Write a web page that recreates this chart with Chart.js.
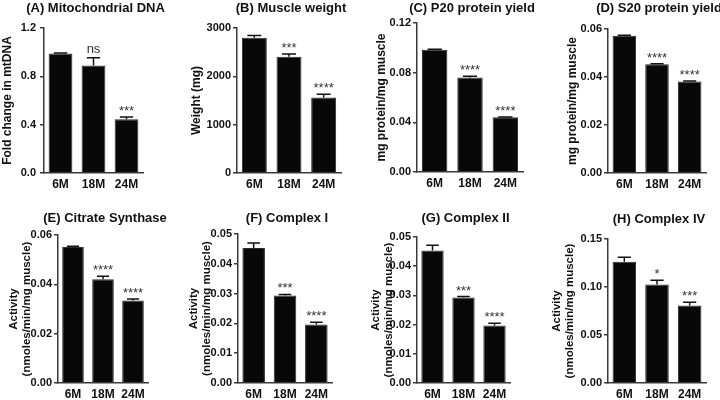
<!DOCTYPE html>
<html>
<head>
<meta charset="utf-8">
<title>Mitochondrial markers by age</title>
<script src="https://cdn.jsdelivr.net/npm/chart.js@4.4.1/dist/chart.umd.min.js"></script>
<style>
  html, body { margin: 0; padding: 0; background: #fff; }
  #page { position: relative; width: 720px; height: 400px; overflow: hidden; }
  #page canvas { position: absolute; }
</style>
</head>
<body>
<div id="page"></div>
<script>
// ---- data ----
const ages = ['6M', '18M', '24M'];

const mtDNA = [0.99, 0.89, 0.445];
const mtDNAErr = [0.004, 0.063, 0.018];
const mtDNASig = ['', 'ns', '***'];
const mtDNATicks = [0, 0.4, 0.8, 1.2];

const weight = [2800, 2405, 1562];
const weightErr = [45, 56, 69];
const weightSig = ['', '***', '****'];
const weightTicks = [0, 1000, 2000, 3000];

const p20 = [0.0985, 0.0761, 0.0441];
const p20Err = [0.0003, 0.0010, 0.0002];
const p20Sig = ['', '****', '****'];
const p20Ticks = [0, 0.04, 0.08, 0.12];

const s20 = [0.0572, 0.0453, 0.0381];
const s20Err = [0.0002, 0.0002, 0.0002];
const s20Sig = ['', '****', '****'];
const s20Ticks = [0, 0.02, 0.04, 0.06];

const citrate = [0.0551, 0.0421, 0.0334];
const citrateErr = [0.0003, 0.0012, 0.0007];
const citrateSig = ['', '****', '****'];
const citrateTicks = [0, 0.02, 0.04, 0.06];

const complex1 = [0.0453, 0.0294, 0.0196];
const complex1Err = [0.0017, 0.0003, 0.0008];
const complex1Sig = ['', '***', '****'];
const complex1Ticks = [0, 0.01, 0.02, 0.03, 0.04, 0.05];

const complex2 = [0.0454, 0.0293, 0.0197];
const complex2Err = [0.0018, 0.0003, 0.0008];
const complex2Sig = ['', '***', '****'];
const complex2Ticks = [0, 0.01, 0.02, 0.03, 0.04, 0.05];

const complex4 = [0.1264, 0.1025, 0.0806];
const complex4Err = [0.0045, 0.0045, 0.0034];
const complex4Sig = ['', '*', '***'];
const complex4Ticks = [0, 0.05, 0.10, 0.15];

const activityTitle = ['Activity', '(nmoles/min/mg muscle)'];

const panels = [
  { title: '(A) Mitochondrial DNA', yTitle: 'Fold change in mtDNA', values: mtDNA, errors: mtDNAErr, sigs: mtDNASig, ticks: mtDNATicks, decimals: 1 },
  { title: '(B) Muscle weight', yTitle: 'Weight (mg)', values: weight, errors: weightErr, sigs: weightSig, ticks: weightTicks, decimals: 0 },
  { title: '(C) P20 protein yield', yTitle: 'mg protein/mg muscle', values: p20, errors: p20Err, sigs: p20Sig, ticks: p20Ticks, decimals: 2 },
  { title: '(D) S20 protein yield', yTitle: 'mg protein/mg muscle', values: s20, errors: s20Err, sigs: s20Sig, ticks: s20Ticks, decimals: 2 },
  { title: '(E) Citrate Synthase', yTitle: activityTitle, values: citrate, errors: citrateErr, sigs: citrateSig, ticks: citrateTicks, decimals: 2 },
  { title: '(F) Complex I', yTitle: activityTitle, values: complex1, errors: complex1Err, sigs: complex1Sig, ticks: complex1Ticks, decimals: 2 },
  { title: '(G) Complex II', yTitle: activityTitle, values: complex2, errors: complex2Err, sigs: complex2Sig, ticks: complex2Ticks, decimals: 2 },
  { title: '(H) Complex IV', yTitle: activityTitle, values: complex4, errors: complex4Err, sigs: complex4Sig, ticks: complex4Ticks, decimals: 2 }
];

// ---- layout of each panel, in px inside its 180x200 canvas ----
// axisW: width of y axis block, top/right/xAxisH: plot area edges, titleY: panel title centre, yPad: offset of y title
const layouts = [
  { col: 0, row: 0, axisW: 44, top: 28, right: 37, xAxisH: 27, titleY: 8, yPad: 0.8, tickPad: 4 },
  { col: 1, row: 0, axisW: 57, top: 28, right: 19, xAxisH: 27, titleY: 8, yPad: 9.8, tickPad: 2 },
  { col: 2, row: 0, axisW: 57, top: 23, right: 17, xAxisH: 28, titleY: 8, yPad: 14.8, tickPad: 2 },
  { col: 3, row: 0, axisW: 68, top: 29, right: 14, xAxisH: 27, titleY: 8, yPad: 25.8, tickPad: 2 },
  { col: 0, row: 1, axisW: 58, top: 35, right: 32, xAxisH: 17, titleY: 18, yPad: 7.7, tickPad: 2 },
  { col: 1, row: 1, axisW: 58, top: 34, right: 28, xAxisH: 17, titleY: 18, yPad: 7.7, tickPad: 2 },
  { col: 2, row: 1, axisW: 57, top: 37, right: 30, xAxisH: 17, titleY: 18, yPad: 9.7, tickPad: 2 },
  { col: 3, row: 1, axisW: 68, top: 39, right: 14, xAxisH: 17, titleY: 19, yPad: 10.7, tickPad: 2 }
];

const FONT = "'Liberation Sans', Arial, Helvetica, sans-serif";
const INK = '#111';
const AXIS = '#3a3a3a';

// panel title, error bars (mean + SEM) and significance marks
function makeExtras(p, L) {
  return {
    id: 'extras',
    afterDatasetsDraw(chart) {
      const ctx = chart.ctx;
      const y = chart.scales.y;
      const meta = chart.getDatasetMeta(0);
      ctx.save();
      meta.data.forEach((bar, i) => {
        const v = p.values[i];
        const yMean = y.getPixelForValue(v);
        const yTop = y.getPixelForValue(v + p.errors[i]);
        const half = bar.width * 0.28;
        ctx.strokeStyle = INK;
        ctx.lineWidth = 1.5;
        ctx.beginPath();
        ctx.moveTo(bar.x, yMean);
        ctx.lineTo(bar.x, yTop);
        ctx.moveTo(bar.x - half, yTop);
        ctx.lineTo(bar.x + half, yTop);
        ctx.stroke();

        const s = p.sigs[i];
        if (s) {
          ctx.fillStyle = '#333';
          ctx.textAlign = 'center';
          ctx.textBaseline = 'alphabetic';
          ctx.font = '13px ' + FONT;
          ctx.fillText(s, bar.x, yTop - (s === 'ns' ? 5 : 2));
        }
      });
      ctx.restore();
    },
    afterDraw(chart) {
      const ctx = chart.ctx;
      const a = chart.chartArea;
      ctx.save();
      ctx.fillStyle = INK;
      ctx.font = 'bold 13px ' + FONT;
      ctx.textAlign = 'center';
      ctx.textBaseline = 'middle';
      ctx.fillText(p.title, (a.left + a.right) / 2 + 2, L.titleY);
      ctx.restore();
    }
  };
}

function buildPanel(p, L) {
  const page = document.getElementById('page');
  const canvas = document.createElement('canvas');
  canvas.width = 180;
  canvas.height = 200;
  canvas.style.left = (L.col * 180) + 'px';
  canvas.style.top = (L.row * 200) + 'px';
  page.appendChild(canvas);

  const twoLine = Array.isArray(p.yTitle);

  new Chart(canvas, {
    type: 'bar',
    data: {
      labels: ages,
      datasets: [{
        data: p.values,
        backgroundColor: '#080808',
        borderColor: '#2c2c2c',
        borderWidth: 1,
        barPercentage: 0.72,
        categoryPercentage: 1
      }]
    },
    options: {
      responsive: false,
      animation: false,
      devicePixelRatio: 1,
      layout: { padding: { left: 0, top: L.top, right: L.right, bottom: 0 } },
      plugins: {
        legend: { display: false },
        tooltip: { enabled: false },
        title: { display: false }
      },
      scales: {
        x: {
          afterFit: s => { s.height = L.xAxisH; },
          grid: { display: false, drawTicks: false },
          border: { display: true, color: AXIS, width: 1.5 },
          ticks: { color: INK, padding: 4, font: { family: FONT, size: 12, weight: 'bold' } }
        },
        y: {
          min: p.ticks[0],
          max: p.ticks[p.ticks.length - 1],
          afterBuildTicks: s => { s.ticks = p.ticks.map(v => ({ value: v })); },
          afterFit: s => { s.width = L.axisW; },
          grid: { display: true, drawOnChartArea: false, drawTicks: true, tickLength: 4, color: AXIS, lineWidth: 1.5 },
          border: { display: true, color: AXIS, width: 1.5 },
          ticks: {
            color: INK,
            padding: L.tickPad,
            font: { family: FONT, size: 11, weight: 'bold' },
            callback: v => Number(v).toFixed(p.decimals)
          },
          title: {
            display: true,
            text: p.yTitle,
            color: INK,
            font: { family: FONT, size: twoLine ? 11.5 : 12, weight: 'bold', lineHeight: twoLine ? 1.1 : 1.2 },
            padding: { top: L.yPad, bottom: 0 }
          }
        }
      }
    },
    plugins: [makeExtras(p, L)]
  });
}

panels.forEach((p, i) => buildPanel(p, layouts[i]));
</script>
</body>
</html>
